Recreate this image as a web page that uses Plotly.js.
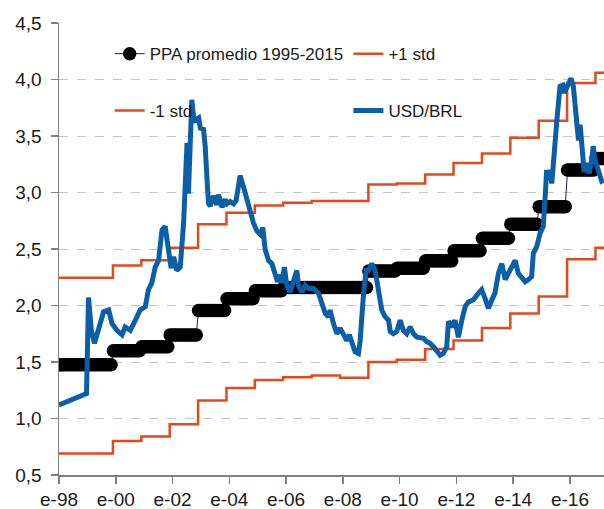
<!DOCTYPE html>
<html>
<head>
<meta charset="utf-8">
<script src="https://cdn.plot.ly/plotly-3.0.1.min.js"></script>
<style>html,body{margin:0;padding:0;background:#fff;}#chart{width:604px;height:509px;}</style>
</head>
<body>
<div id="chart"></div>
<script>
// ---- Data (decimal years) ----
var xTickVals = [1998, 2000, 2002, 2004, 2006, 2008, 2010, 2012, 2014, 2016];
var xTickText = ["e-98", "e-00", "e-02", "e-04", "e-06", "e-08", "e-10", "e-12", "e-14", "e-16"];
var xEnd = 2017.2;

// step start (decimal year) for PPA and +/-1 std bands
var stepStart = [1998.0, 1999.9, 2000.9, 2001.9, 2002.9, 2003.9, 2004.9, 2005.9, 2006.9, 2007.9,
                 2008.9, 2009.9, 2010.9, 2011.9, 2012.9, 2013.9, 2014.9, 2015.9, 2016.9];
var ppaValues   = [1.475, 1.60, 1.635, 1.74, 1.955, 2.06, 2.13, 2.16, 2.16, 2.16,
                   2.305, 2.33, 2.395, 2.485, 2.595, 2.72, 2.875, 3.20, 3.30];
var plusStd     = [2.245, 2.355, 2.40, 2.51, 2.72, 2.82, 2.885, 2.91, 2.925, 2.925,
                   3.07, 3.08, 3.16, 3.26, 3.345, 3.485, 3.635, 3.97, 4.06];
var minusStd    = [0.69, 0.80, 0.84, 0.95, 1.16, 1.27, 1.34, 1.365, 1.38, 1.36,
                   1.50, 1.52, 1.615, 1.69, 1.80, 1.93, 2.08, 2.41, 2.51];

var usdYear = [1998.00, 1998.46, 1998.93, 1998.97, 1999.04, 1999.14, 1999.25, 1999.39, 1999.51, 1999.57,
  1999.75, 1999.87, 2000.04, 2000.22, 2000.33, 2000.51, 2000.69, 2000.86, 2001.04, 2001.15,
  2001.27, 2001.39, 2001.51, 2001.63, 2001.74, 2001.86, 2001.95, 2002.04, 2002.15, 2002.27,
  2002.39, 2002.45, 2002.51, 2002.56, 2002.62, 2002.68, 2002.74, 2002.80, 2002.92, 2002.98,
  2003.09, 2003.15, 2003.23, 2003.27, 2003.33, 2003.39, 2003.44, 2003.50, 2003.56, 2003.62,
  2003.74, 2003.86, 2003.92, 2004.03, 2004.15, 2004.24, 2004.32, 2004.38, 2004.50, 2004.62,
  2004.74, 2004.85, 2004.97, 2005.09, 2005.18, 2005.26, 2005.38, 2005.50, 2005.62, 2005.70,
  2005.79, 2005.85, 2005.94, 2006.03, 2006.14, 2006.26, 2006.38, 2006.44, 2006.56, 2006.67,
  2006.79, 2006.96, 2007.14, 2007.26, 2007.38, 2007.49, 2007.55, 2007.67, 2007.79, 2007.90,
  2008.02, 2008.14, 2008.23, 2008.32, 2008.43, 2008.55, 2008.61, 2008.73, 2008.82, 2008.90,
  2009.02, 2009.14, 2009.25, 2009.37, 2009.49, 2009.61, 2009.67, 2009.78, 2009.90, 2010.02,
  2010.13, 2010.25, 2010.37, 2010.49, 2010.61, 2010.72, 2010.84, 2010.96, 2011.07, 2011.19,
  2011.31, 2011.43, 2011.54, 2011.66, 2011.72, 2011.84, 2011.95, 2012.07, 2012.19, 2012.31,
  2012.42, 2012.60, 2012.78, 2012.89, 2013.01, 2013.13, 2013.25, 2013.36, 2013.48, 2013.60,
  2013.72, 2013.89, 2014.07, 2014.18, 2014.30, 2014.42, 2014.54, 2014.65, 2014.71, 2014.83,
  2014.95, 2015.06, 2015.12, 2015.18, 2015.24, 2015.30, 2015.36, 2015.42, 2015.54, 2015.65,
  2015.75, 2015.80, 2015.94, 2016.04, 2016.12, 2016.24, 2016.30, 2016.36, 2016.42, 2016.50,
  2016.59, 2016.68, 2016.77, 2016.82, 2016.88, 2017.00, 2017.12, 2017.20];
var usdValue = [1.12, 1.17, 1.21, 1.22, 2.07, 1.78, 1.665, 1.78, 1.87, 1.945,
  1.96, 1.84, 1.78, 1.74, 1.81, 1.78, 1.87, 1.96, 1.99, 2.14,
  2.20, 2.34, 2.40, 2.67, 2.70, 2.49, 2.33, 2.43, 2.31, 2.34,
  2.73, 3.08, 3.44, 2.99, 3.43, 3.82, 3.67, 3.64, 3.66, 3.57,
  3.56, 3.41, 3.05, 2.90, 2.88, 2.96, 2.97, 2.93, 2.89, 2.98,
  2.87, 2.94, 2.90, 2.92, 2.90, 2.93, 3.10, 3.15, 3.05, 2.92,
  2.83, 2.73, 2.66, 2.63, 2.69, 2.50, 2.40, 2.37, 2.29, 2.21,
  2.27, 2.20, 2.34, 2.17, 2.12, 2.20, 2.31, 2.17, 2.12, 2.18,
  2.15, 2.15, 2.11, 2.02, 1.93, 1.90, 1.96, 1.84, 1.75, 1.80,
  1.75, 1.69, 1.74, 1.665, 1.59, 1.575, 1.69, 2.11, 2.31, 2.31,
  2.37, 2.31, 2.15, 1.96, 1.90, 1.87, 1.77, 1.75, 1.77, 1.87,
  1.78, 1.75, 1.81, 1.75, 1.72, 1.71, 1.71, 1.68, 1.665, 1.635,
  1.59, 1.56, 1.575, 1.635, 1.86, 1.81, 1.87, 1.72, 1.87, 1.99,
  2.03, 2.05, 2.11, 2.14, 2.06, 1.975, 2.05, 2.11, 2.285, 2.37,
  2.23, 2.31, 2.40, 2.285, 2.255, 2.21, 2.23, 2.255, 2.46, 2.52,
  2.64, 2.70, 2.93, 3.20, 3.11, 3.20, 3.08, 3.23, 3.64, 3.94,
  3.95, 3.88, 3.97, 4.01, 3.94, 3.61, 3.46, 3.60, 3.41, 3.18,
  3.26, 3.17, 3.29, 3.41, 3.29, 3.20, 3.10, 3.11];

// ---- Build traces ----
function stepXY(starts, vals) {
  return { x: starts.concat([xEnd]), y: vals.concat([vals[vals.length - 1]]) };
}
function stepValueAt(t, starts, vals) {
  var v = vals[0];
  for (var i = 0; i < starts.length; i++) { if (t >= starts[i] - 1e-9) v = vals[i]; }
  return v;
}
// PPA drawn as monthly markers taking the annual step value
var ppaX = [], ppaY = [];
for (var m = 0; 1998 + m / 12 <= xEnd + 1e-9; m++) {
  var t = 1998 + m / 12;
  ppaX.push(t);
  ppaY.push(stepValueAt(t, stepStart, ppaValues));
}
var plusXY = stepXY(stepStart, plusStd);
var minusXY = stepXY(stepStart, minusStd);

var orange = '#E2491C';
var blue = '#0A5FA6';

var traces = [
  { x: ppaX, y: ppaY, name: 'PPA promedio 1995-2015', mode: 'lines+markers', type: 'scatter',
    line: { color: '#1b1b80', width: 1 }, marker: { color: '#000000', size: 13.5 }, legend: 'legend' },
  { x: plusXY.x, y: plusXY.y, name: '+1 std', mode: 'lines', type: 'scatter',
    line: { color: orange, width: 2.5, shape: 'hv' }, legend: 'legend2' },
  { x: minusXY.x, y: minusXY.y, name: '-1 std', mode: 'lines', type: 'scatter',
    line: { color: orange, width: 2.5, shape: 'hv' }, legend: 'legend3' },
  { x: usdYear, y: usdValue, name: 'USD/BRL', mode: 'lines', type: 'scatter',
    line: { color: blue, width: 5 }, legend: 'legend4' }
];

var fontFam = 'Arial, "Liberation Sans", sans-serif';
function leg(x, y) {
  return {
    orientation: 'h', x: x, xanchor: 'left', y: y, yanchor: 'top',
    bgcolor: 'rgba(0,0,0,0)', traceorder: 'normal',
    font: { family: fontFam, size: 17, color: '#1a1a1a' }
  };
}
var layout = {
  width: 604, height: 509,
  margin: { l: 59, r: 0, t: 23, b: 34 },
  paper_bgcolor: '#ffffff', plot_bgcolor: '#ffffff',
  separators: ',.',
  font: { family: fontFam, size: 19, color: '#1a1a1a' },
  showlegend: true,
  hovermode: false,
  xaxis: {
    range: [1998, xEnd], tickvals: xTickVals, ticktext: xTickText,
    showgrid: false, zeroline: false, showline: true, linecolor: '#808080', linewidth: 1.5,
    ticks: 'outside', ticklen: 7, tickcolor: '#808080', tickwidth: 1.5,
    tickfont: { family: fontFam, size: 19, color: '#1a1a1a' }
  },
  yaxis: {
    range: [0.5, 4.5], dtick: 0.5, tick0: 0.5, tickformat: '.1f',
    showgrid: true, gridcolor: '#c4c4c4', griddash: 'dash', gridwidth: 1,
    zeroline: false, showline: true, linecolor: '#808080', linewidth: 1.5,
    ticks: 'outside', ticklen: 7, tickcolor: '#808080', tickwidth: 1.5,
    ticklabelstandoff: 5,
    tickfont: { family: fontFam, size: 19, color: '#1a1a1a' }
  },
  legend: leg(0.093, 0.971),
  legend2: leg(0.531, 0.971),
  legend3: leg(0.093, 0.845),
  legend4: leg(0.531, 0.845)
};

Plotly.newPlot('chart', traces, layout, { displayModeBar: false, staticPlot: true });
</script>
</body>
</html>
